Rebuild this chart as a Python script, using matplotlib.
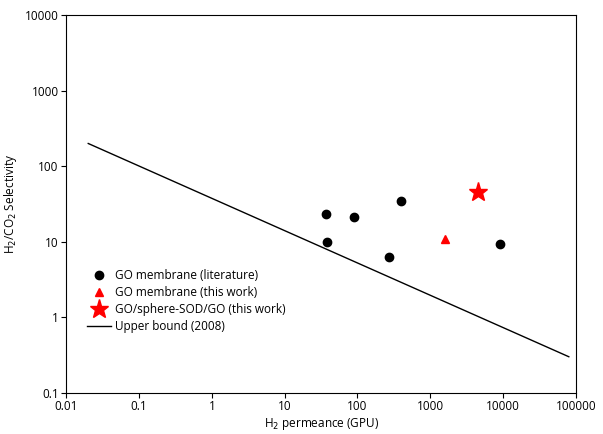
import matplotlib
matplotlib.use("Agg")
import matplotlib.pyplot as plt

lit_x = [37, 38, 90, 270, 400, 9000]
lit_y = [23, 10, 21, 6.2, 35, 9.3]
tw_x = [1600]; tw_y = [11]
star_x = [4500]; star_y = [46]
ub_x = [0.02, 80000]; ub_y = [200, 0.3]

plt.rcParams['font.family'] = ['Open Sans', 'DejaVu Sans']
fig, ax = plt.subplots(figsize=(6.03, 4.34), dpi=100)
fig.subplots_adjust(left=0.11, right=0.955, bottom=0.095, top=0.965)
ax.plot(lit_x, lit_y, 'o', color='black', ms=6, label='GO membrane (literature)')
ax.plot(tw_x, tw_y, '^', color='red', ms=6, label='GO membrane (this work)')
ax.plot(star_x, star_y, '*', color='red', ms=14, label='GO/sphere-SOD/GO (this work)')
ax.plot(ub_x, ub_y, '-', color='black', lw=1, label='Upper bound (2008)')
ax.set_xscale('log'); ax.set_yscale('log')
ax.set_xlim(0.01, 100000); ax.set_ylim(0.1, 10000)
ax.set_xticks([0.01, 0.1, 1, 10, 100, 1000, 10000, 100000])
ax.set_xticklabels(['0.01', '0.1', '1', '10', '100', '1000', '10000', '100000'])
ax.set_yticks([0.1, 1, 10, 100, 1000, 10000])
ax.set_yticklabels(['0.1', '1', '10', '100', '1000', '10000'])
ax.minorticks_off()
ax.tick_params(labelsize=8.5, direction='out', pad=2)
ax.set_xlabel('H$_2$ permeance (GPU)', fontsize=8.5, labelpad=2)
ax.set_ylabel('H$_2$/CO$_2$ Selectivity', fontsize=8.5, labelpad=4)
ax.legend(loc='lower left', bbox_to_anchor=(0.02, 0.13), frameon=False, fontsize=8.5,
          handletextpad=0.4, labelspacing=0.35)
fig.savefig('out.png')
